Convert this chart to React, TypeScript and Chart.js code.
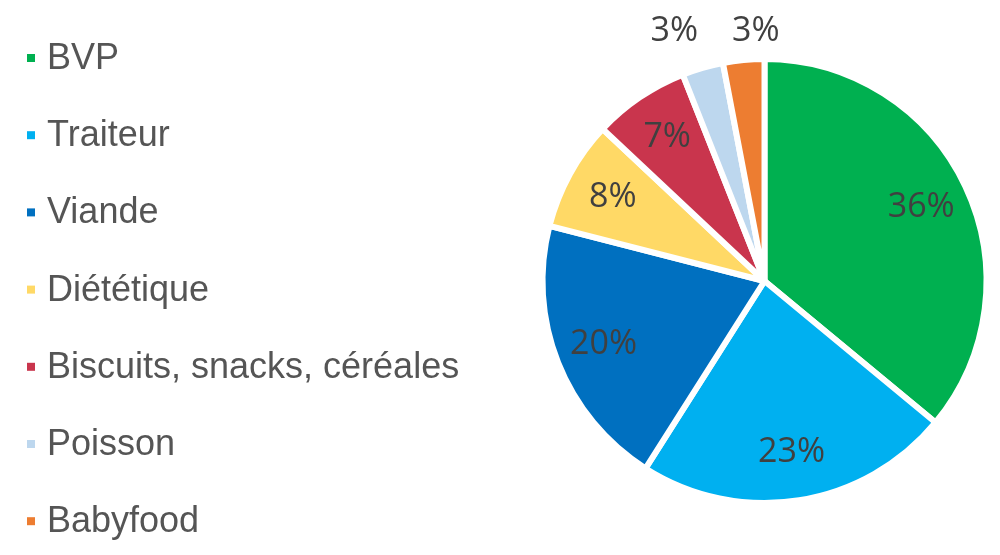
import React, { useRef, useEffect } from 'react';
import { Chart, registerables } from 'chart.js';

Chart.register(...registerables);

const categories = ['BVP', 'Traiteur', 'Viande', 'Diététique', 'Biscuits, snacks, céréales', 'Poisson', 'Babyfood'];
const shares = [36, 23, 20, 8, 7, 3, 3];
const sliceColors = ['#00B050', '#00B0F0', '#0070C0', '#FFD966', '#C9354D', '#BDD7EE', '#ED7D31'];

const LEGEND_FONT = '36px "Liberation Sans", Arial, sans-serif';
const LABEL_FONT = '34px "Open Sans", sans-serif';

// legend drawn on the left of the canvas, one line per category
const sideLegend = {
    id: 'sideLegend',
    afterDraw: (chart: Chart) => {
        const ctx = chart.ctx;
        const firstBaseline = 69;
        const step = 77.2;
        ctx.save();
        ctx.font = LEGEND_FONT;
        ctx.textBaseline = 'alphabetic';
        ctx.textAlign = 'left';
        categories.forEach((name, i) => {
            const y = firstBaseline + i * step;
            ctx.fillStyle = sliceColors[i];
            ctx.fillRect(27, y - 15, 8, 8);
            ctx.fillStyle = '#555555';
            ctx.fillText(name, 47, y);
        });
        ctx.restore();
    },
};

// percentage labels: inside the slice, or above the pie for tiny slices
const pctLabels = {
    id: 'pctLabels',
    afterDatasetsDraw: (chart: Chart) => {
        const ctx = chart.ctx;
        const meta = chart.getDatasetMeta(0);
        ctx.save();
        ctx.font = LABEL_FONT;
        ctx.fillStyle = '#404040';
        ctx.textAlign = 'center';
        ctx.textBaseline = 'middle';

        const outside: { x: number; y: number; text: string; w: number }[] = [];
        meta.data.forEach((el: any, i: number) => {
            const { x, y, startAngle, endAngle, outerRadius } = el.getProps(['x', 'y', 'startAngle', 'endAngle', 'outerRadius'], true);
            const mid = (startAngle + endAngle) / 2;
            const text = shares[i] + '%';
            if (shares[i] >= 5) {
                const d = outerRadius * 0.78;
                ctx.fillText(text, x + Math.cos(mid) * d, y + Math.sin(mid) * d);
            } else {
                outside.push({
                    x: x + Math.cos(mid) * outerRadius,
                    y: y - outerRadius - 28,
                    text,
                    w: ctx.measureText(text).width,
                });
            }
        });

        // spread the outside labels so they do not overlap
        outside.sort((a, b) => a.x - b.x);
        for (let k = 1; k < outside.length; k++) {
            const a = outside[k - 1];
            const b = outside[k];
            const need = (a.w + b.w) / 2 + 34;
            const gap = b.x - a.x;
            if (gap < need) {
                const push = (need - gap) / 2;
                a.x -= push + 8;
                b.x += push - 8;
            }
        }
        outside.forEach((o) => ctx.fillText(o.text, o.x, o.y));
        ctx.restore();
    },
};

const App: React.FC = () => {
    const canvasRef = useRef<HTMLCanvasElement>(null);
    const chartRef = useRef<Chart | null>(null);

    useEffect(() => {
        document.body.style.margin = '0';
        if (!canvasRef.current) return;
        const ctx = canvasRef.current.getContext('2d');
        if (!ctx) return;

        chartRef.current = new Chart(ctx, {
            type: 'pie',
            data: {
                labels: categories,
                datasets: [
                    {
                        data: shares,
                        backgroundColor: sliceColors,
                        borderColor: '#ffffff',
                        borderWidth: 6,
                    },
                ],
            },
            options: {
                animation: false,
                responsive: true,
                maintainAspectRatio: false,
                layout: {
                    padding: { left: 539, right: 10, top: 56, bottom: 49 },
                },
                plugins: {
                    legend: { display: false },
                    tooltip: { enabled: false },
                },
            },
            plugins: [sideLegend, pctLabels],
        });

        return () => {
            chartRef.current?.destroy();
        };
    }, []);

    return (
        <div style={{ position: 'relative', width: '1000px', height: '555px' }}>
            <canvas ref={canvasRef}></canvas>
        </div>
    );
};

export default App;
